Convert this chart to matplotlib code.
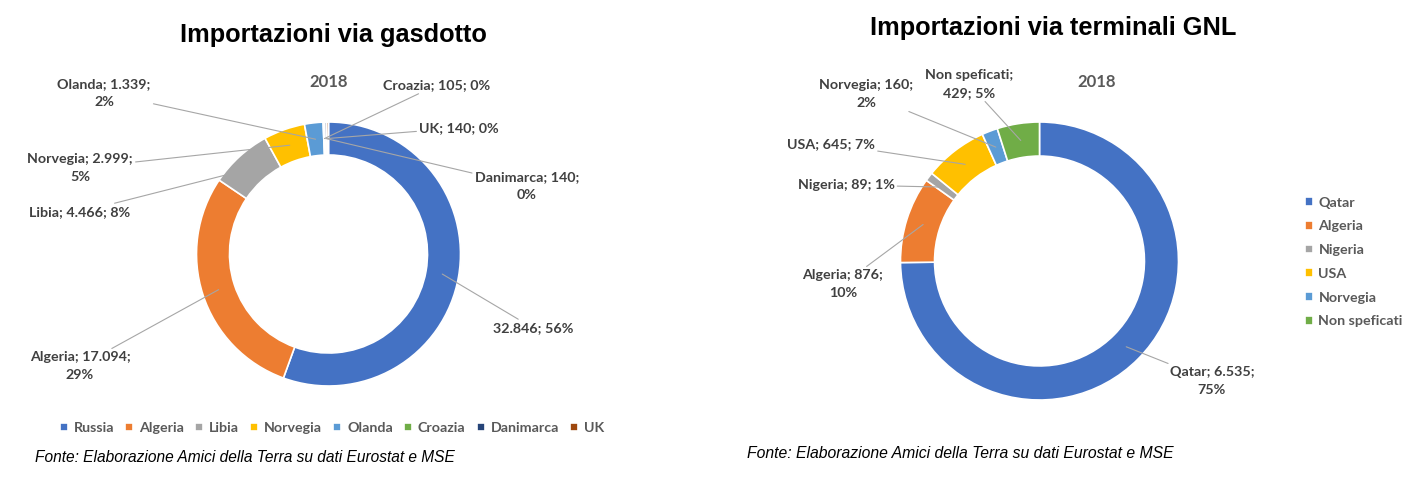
import numpy as np
import matplotlib.pyplot as plt

# dati 2018 (Mm3)
gas_labels = ["Russia", "Algeria", "Libia", "Norvegia", "Olanda", "Croazia", "Danimarca", "UK"]
gas_values = [32846, 17094, 4466, 2999, 1339, 105, 140, 140]
gnl_labels = ["Qatar", "Algeria", "Nigeria", "USA", "Norvegia", "Non speficati"]
gnl_values = [6535, 876, 89, 645, 160, 429]

gas_colors = ["#4472C4", "#ED7D31", "#A5A5A5", "#FFC000", "#5B9BD5", "#70AD47", "#264478", "#9E480E"]
gnl_colors = ["#4472C4", "#ED7D31", "#A5A5A5", "#FFC000", "#5B9BD5", "#70AD47"]

# posizione etichette (pixel, dall'alto) e formato
gas_layout = [
    (533, 328, "{v}; {p}%"),
    (80, 366, "{n}; {v};\n{p}%"),
    (80, 212, "{n}; {v}; {p}%"),
    (80, 168, "{n}; {v};\n{p}%"),
    (104, 93, "{n}; {v};\n{p}%"),
    (437, 85, "{n}; {v}; {p}%"),
    (527, 186, "{n}; {v};\n{p}%"),
    (459, 128, "{n}; {v}; {p}%"),
]
gnl_layout = [
    (1212, 381, "{n}; {v};\n{p}%"),
    (843, 284, "{n}; {v};\n{p}%"),
    (846, 185, "{n}; {v}; {p}%"),
    (831, 144, "{n}; {v}; {p}%"),
    (866, 94, "{n}; {v};\n{p}%"),
    (969, 84, "{n};\n{v}; {p}%"),
]

W, H = 1412, 482
LABEL_FONT = dict(family=["Lato", "DejaVu Sans"], fontweight="bold", fontsize=10.3, color="#404040")
LEG_FONT = {"family": ["Lato", "DejaVu Sans"], "weight": "bold", "size": 10.3}


def itnum(v):
    return f"{v:,}".replace(",", ".")


def donut(fig, cx, cy, r, width, labels, values, colors, layout):
    ax = fig.add_axes([(cx - r) / W, (H - cy - r) / H, 2 * r / W, 2 * r / H])
    wedges, _ = ax.pie(values, colors=colors, startangle=90, counterclock=False, radius=1,
                       wedgeprops=dict(width=width, edgecolor="white", linewidth=1.2))
    ax.set_xlim(-1, 1)
    ax.set_ylim(-1, 1)
    total = sum(values)
    rm = 1 - width / 2
    for w, n, v, (lx, ly, fmt) in zip(wedges, labels, values, layout):
        ang = np.deg2rad((w.theta1 + w.theta2) / 2)
        txt = fmt.format(n=n, v=itnum(v), p=round(100 * v / total))
        ax.annotate(txt, xy=(rm * np.cos(ang), rm * np.sin(ang)), xycoords="data",
                    xytext=(lx, H - ly), textcoords="figure pixels",
                    ha="center", va="center", linespacing=1.55, annotation_clip=False,
                    arrowprops=dict(arrowstyle="-", color="#A6A6A6", lw=0.8, shrinkA=0, shrinkB=0),
                    **LABEL_FONT)
    return wedges


fig = plt.figure(figsize=(W / 100, H / 100), dpi=100)

w1 = donut(fig, 328.5, 254, 132, 0.25, gas_labels, gas_values, gas_colors, gas_layout)
w2 = donut(fig, 1039.5, 261, 139, 0.245, gnl_labels, gnl_values, gnl_colors, gnl_layout)

fig.text(333 / W, 1 - 35 / H, "Importazioni via gasdotto", ha="center", va="center",
         family="Liberation Sans", fontweight="bold", fontsize=18.3)
fig.text(1053 / W, 1 - 28 / H, "Importazioni via terminali GNL", ha="center", va="center",
         family="Liberation Sans", fontweight="bold", fontsize=18.3)
for x, y in [(329, 82), (1097, 82)]:
    fig.text(x / W, 1 - y / H, "2018", ha="center", va="center", family=["Lato", "DejaVu Sans"],
             fontweight="bold", fontsize=12, color="#595959")

leg1 = fig.legend(w1, gas_labels, loc="center", bbox_to_anchor=(332 / W, 1 - 428 / H), ncol=8,
                  frameon=False, handlelength=0.55, handleheight=0.55, handletextpad=0.4,
                  columnspacing=0.8, prop=LEG_FONT)
for t in leg1.get_texts():
    t.set_color("#595959")
leg2 = fig.legend(w2, gnl_labels, loc="center left", bbox_to_anchor=(1292 / W, 1 - 262 / H), ncol=1,
                  frameon=False, handlelength=0.55, handleheight=0.55, handletextpad=0.4,
                  labelspacing=0.82, prop=LEG_FONT)
for t in leg2.get_texts():
    t.set_color("#595959")

fig.text(35 / W, 1 - 458 / H, "Fonte: Elaborazione Amici della Terra su dati Eurostat e MSE",
         ha="left", va="center", family="Liberation Sans", style="italic", fontsize=11.2)
fig.text(747 / W, 1 - 453 / H, "Fonte: Elaborazione Amici della Terra su dati Eurostat e MSE",
         ha="left", va="center", family="Liberation Sans", style="italic", fontsize=11.3)

fig.savefig("out.png", dpi=100)
